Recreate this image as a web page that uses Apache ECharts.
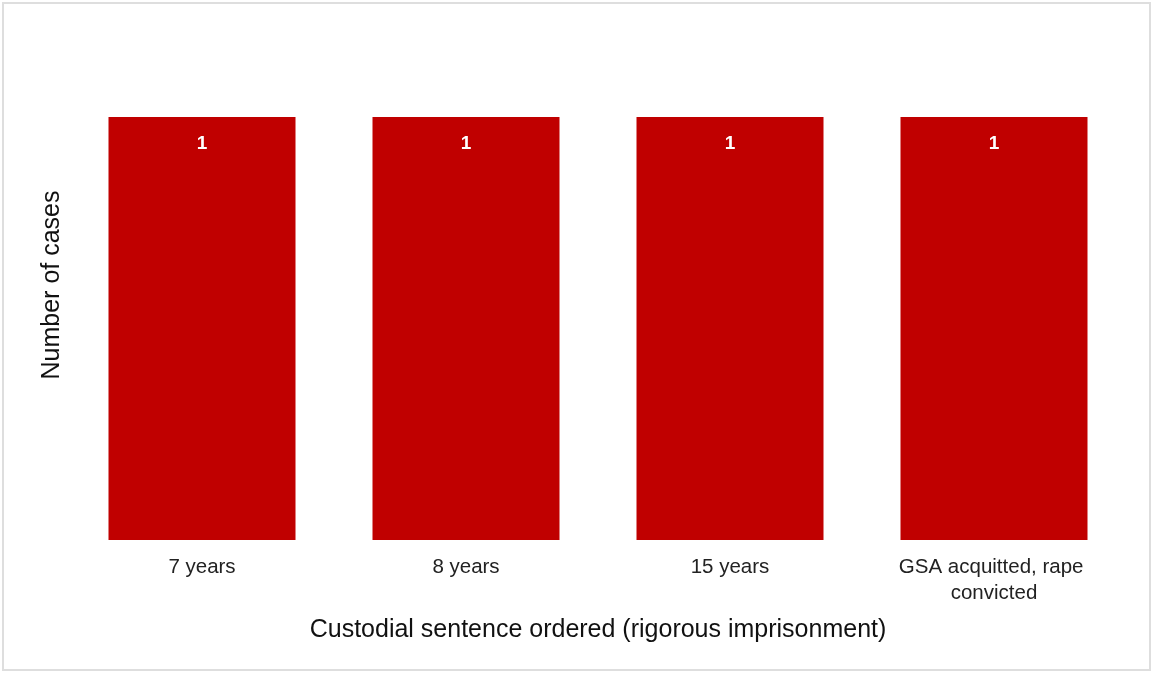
<!DOCTYPE html>
<html>
<head>
<meta charset="utf-8">
<script src="https://cdn.jsdelivr.net/npm/echarts@6/dist/echarts.min.js"></script>
<style>
  html, body { margin: 0; padding: 0; background: #fff; }
  #frame {
    position: absolute; left: 2px; top: 2px; width: 1149px; height: 669px;
    border: 2px solid #dedede; box-sizing: border-box;
  }
  #chart { position: absolute; left: 0; top: 0; width: 1155px; height: 675px; }
</style>
</head>
<body>
<div id="frame"></div>
<div id="chart"></div>
<script>
const categories = ['7 years', '8 years', '15 years', 'GSA acquitted, rape convicted']
const cases = [1, 1, 1, 1]

let chartDom = document.getElementById('chart')
let myChart = echarts.init(chartDom)
const font = '"Liberation Sans", Arial, sans-serif'

let option = {
  animation: false,
  textStyle: { fontFamily: font },
  grid: {
    left: 70,
    right: 29,
    top: 117,
    bottom: 135
  },
  xAxis: {
    type: 'category',
    data: categories,
    axisLine: { show: false },
    axisTick: { show: false },
    axisLabel: {
      color: '#222',
      fontSize: 20.5,
      margin: 14,
      lineHeight: 26,
      width: 220,
      overflow: 'break',
      interval: 0
    },
    name: 'Custodial sentence ordered (rigorous imprisonment)',
    nameLocation: 'middle',
    nameGap: 78,
    nameTextStyle: { color: '#111', fontSize: 25 }
  },
  yAxis: {
    type: 'value',
    min: 0,
    max: 1,
    axisLine: { show: false },
    axisTick: { show: false },
    axisLabel: { show: false },
    splitLine: { show: false }
  },
  graphic: [{
    type: 'text',
    x: 52,
    y: 285,
    rotation: Math.PI / 2,
    style: {
      text: 'Number of cases',
      fill: '#111',
      font: '25px ' + font,
      align: 'center',
      verticalAlign: 'middle'
    }
  }],
  series: [{
    type: 'bar',
    data: cases,
    barWidth: 187,
    itemStyle: { color: '#c00000' },
    label: {
      show: true,
      position: 'insideTop',
      distance: 17,
      color: '#fff',
      fontWeight: 'bold',
      fontSize: 19
    }
  }]
}
myChart.setOption(option)

window.addEventListener('resize', () => {
  myChart.resize()
})
</script>
</body>
</html>
